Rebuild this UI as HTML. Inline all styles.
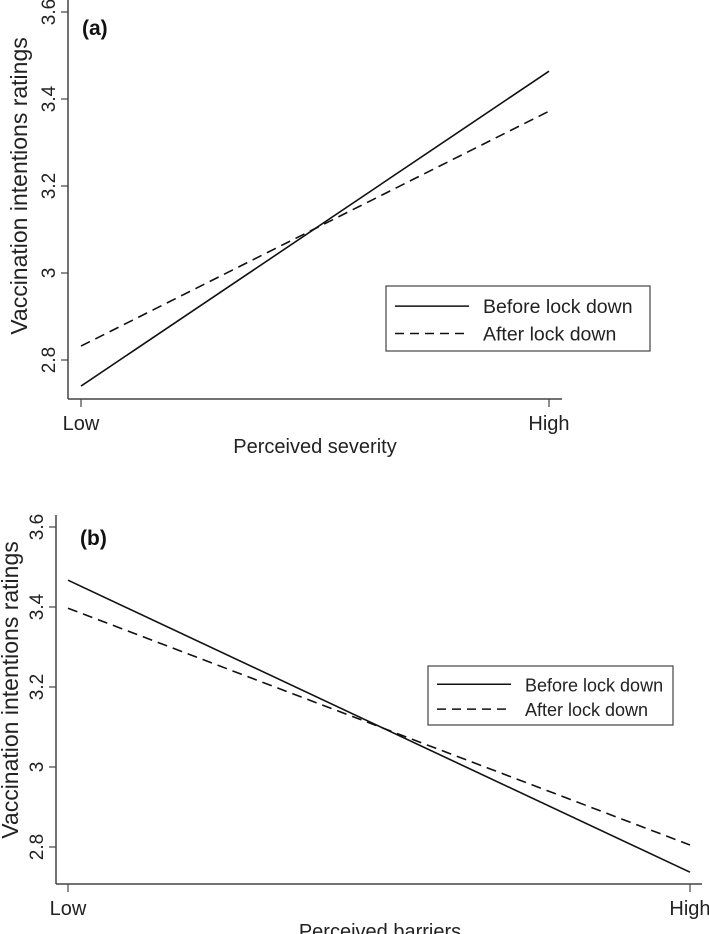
<!DOCTYPE html>
<html><head><meta charset="utf-8"><style>
body{margin:0;background:#fff;}
svg{display:block;font-family:"Liberation Sans",Arial,sans-serif;}
</style></head><body>
<svg id="chart" width="709" height="934" viewBox="0 0 709 934"></svg>
<script>
const yTicks = [2.8, 3, 3.2, 3.4, 3.6];
const yTickLabels = ["2.8", "3", "3.2", "3.4", "3.6"];
const xCategories = ["Low", "High"];
const seriesNames = ["Before lock down", "After lock down"];
const aBefore = [2.74, 3.464];
const aAfter = [2.832, 3.372];
const bBefore = [3.467, 2.737];
const bAfter = [3.397, 2.805];

const svg = document.getElementById('chart');
const NS = 'http://www.w3.org/2000/svg';
function mk(tag, attrs, parent, text){
  const e = document.createElementNS(NS, tag);
  for (const k in attrs) e.setAttribute(k, attrs[k]);
  if (text !== undefined) e.textContent = text;
  (parent || svg).appendChild(e);
  return e;
}
function panel(cfg){
  const g = mk('g', {});
  
  
  const y = v => cfg.y36 + (3.6 - v) * cfg.pxPerUnit;
  const x = i => cfg.xLow + i * (cfg.xHigh - cfg.xLow);
  const ax = mk('line', {x1: cfg.axX, y1: cfg.axTop, x2: cfg.axX, y2: cfg.axY, stroke: '#444', 'stroke-width': 1.5}, g);
  
  
  const xa = mk('line', {x1: cfg.axX, y1: cfg.axY, x2: cfg.axRight, y2: cfg.axY, stroke: '#444', 'stroke-width': 1.5}, g);
  
  
  yTicks.forEach((v, i) => {
    mk('line', {x1: cfg.axX - 7, y1: y(v), x2: cfg.axX, y2: y(v), stroke: '#444', 'stroke-width': 1.2}, g);
    const t = mk('text', {x: 0, y: 0, 'font-size': 19, fill: '#222', 'text-anchor': 'middle',
      transform: `translate(${cfg.axX - 13},${y(v)}) rotate(-90)`}, g, yTickLabels[i]);
    
    
  });
  xCategories.forEach((c, i) => {
    mk('line', {x1: x(i), y1: cfg.axY, x2: x(i), y2: cfg.axY + 8, stroke: '#444', 'stroke-width': 1.2}, g);
    const t = mk('text', {x: x(i), y: cfg.axY + 31, 'font-size': 20, fill: '#222', 'text-anchor': 'middle'}, g, c);
    
    
  });
  const xt = mk('text', {x: cfg.xTitleX, y: cfg.axY + 54, 'font-size': 20, fill: '#222', 'text-anchor': 'middle'}, g, cfg.xTitle);
  
  
  const yt = mk('text', {x: 0, y: 0, 'font-size': 23, fill: '#222', 'text-anchor': 'middle',
    transform: `translate(${cfg.yTitleX},${cfg.yTitleY}) rotate(-90)`}, g, 'Vaccination intentions ratings');
  
  
  const pl = mk('text', {x: cfg.labX, y: cfg.labY, 'font-size': 21, 'font-weight': 'bold', fill: '#111'}, g, cfg.label);
  
  
  const l1 = mk('line', {x1: x(0), y1: y(cfg.before[0]), x2: x(1), y2: y(cfg.before[1]), stroke: '#111', 'stroke-width': 1.6}, g);
  
  
  const l2 = mk('line', {x1: x(0), y1: y(cfg.after[0]), x2: x(1), y2: y(cfg.after[1]), stroke: '#111', 'stroke-width': 1.6, 'stroke-dasharray': '10,6'}, g);
  
  
  const L = cfg.leg;
  const lg = mk('g', {}, g);
  
  
  mk('rect', {x: L.x, y: L.y, width: L.w, height: L.h, fill: '#fff', stroke: '#444', 'stroke-width': 1.2}, lg);
  seriesNames.forEach((n, i) => {
    const yy = L.y + L.h * (i === 0 ? 0.31 : 0.73);
    mk('line', {x1: L.x + 9, y1: yy, x2: L.x + 83, y2: yy, stroke: '#111', 'stroke-width': 1.5,
      'stroke-dasharray': i === 0 ? 'none' : '9,6'}, lg);
    const t = mk('text', {x: L.x + 97, y: yy + 7, 'font-size': L.fs, fill: '#222'}, lg, n);
    
    
  });
}
panel({name: 'panel-a', y36: 12, pxPerUnit: 435, xLow: 81, xHigh: 549, axX: 68, axTop: 0, axY: 399, axRight: 562,
  xTitle: 'Perceived severity', xTitleX: 315, yTitleX: 27, yTitleY: 186, label: '(a)', labX: 82, labY: 35,
  before: aBefore, after: aAfter, leg: {x: 386, y: 286, w: 264, h: 65, fs: 19.5}});
panel({name: 'panel-b', y36: 527, pxPerUnit: 400, xLow: 68, xHigh: 690, axX: 56, axTop: 515, axY: 884, axRight: 702,
  xTitle: 'Perceived barriers', xTitleX: 380, yTitleX: 18, yTitleY: 690, label: '(b)', labX: 80, labY: 545,
  before: bBefore, after: bAfter, leg: {x: 428, y: 666, w: 245, h: 59, fs: 18}});
</script>
</body></html>
